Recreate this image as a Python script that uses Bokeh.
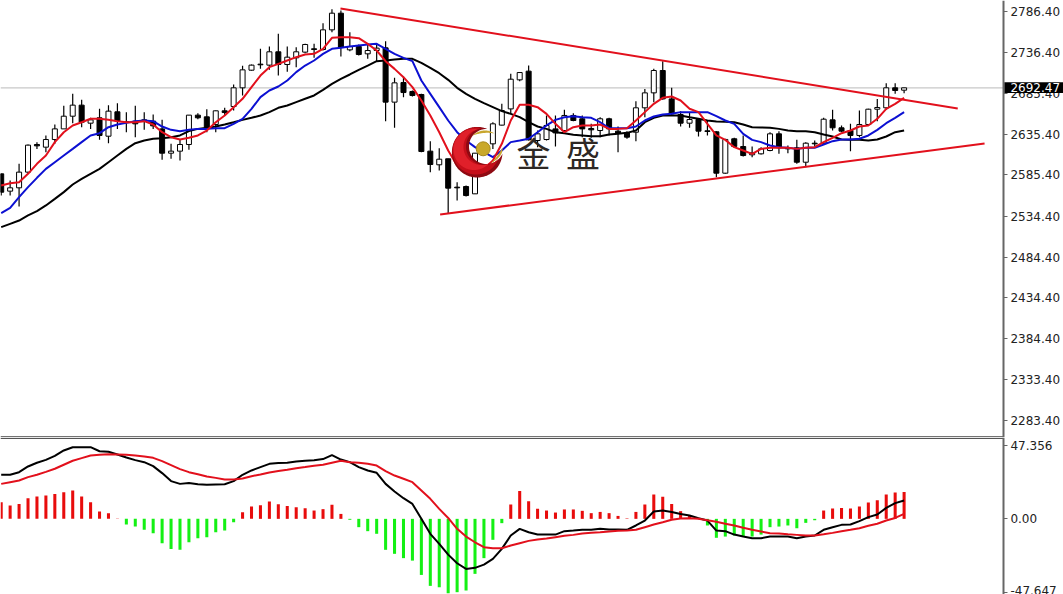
import numpy as np
from bokeh.plotting import figure
from bokeh.layouts import column
from bokeh.models import Range1d, FixedTicker, PrintfTickFormatter
from bokeh.core.properties import value
from bokeh.embed import file_html
from bokeh.resources import INLINE

high = [2586.7,2578.5,2599.0,2622.8,2625.6,2633.9,2647.4,2670.3,2685.1,2677.7,2655.6,2666.7,2671.2,2673.6,2662.6,2670.3,2662.6,2659.7,2653.1,2623.6,
        2628.5,2658.9,2661.3,2666.2,2664.6,2667.9,2696.6,2719.5,2721.2,2740.5,2743.3,2758.9,2743.3,2742.5,2746.6,2746.6,2772.0,2789.2,2787.6,2761.0,
        2745.8,2747.4,2746.6,2749.9,2704.8,2706.4,2689.2,2685.1,2626.9,2618.3,2605.2,2576.5,2572.4,2612.1,2625.6,2650.2,2672.8,2709.7,2711.3,2719.9,
        2640.0,2658.5,2658.5,2665.4,2661.3,2658.5,2648.2,2656.4,2655.6,2644.9,2639.2,2676.1,2691.2,2715.9,2725.3,2692.5,2663.8,2662.6,2654.3,2652.3,
        2639.2,2629.8,2631.0,2633.9,2620.3,2619.5,2637.9,2639.2,2621.6,2628.5,2625.6,2627.7,2655.6,2665.4,2646.2,2648.2,2664.6,2666.7,2678.9,2698.2,2698.2,2692.5]
low = [2560.0,2560.0,2546.5,2586.7,2617.4,2613.4,2623.6,2642.0,2649.0,2644.1,2642.0,2628.5,2624.4,2642.0,2637.9,2631.8,2640.8,2642.0,2603.9,2605.2,
       2603.1,2616.2,2653.9,2637.9,2637.9,2658.5,2664.6,2683.0,2713.4,2715.9,2714.6,2707.6,2712.2,2717.9,2735.1,2729.4,2738.4,2760.9,2731.0,2737.6,
       2732.3,2728.2,2724.9,2651.5,2643.3,2681.0,2681.8,2613.4,2588.8,2590.8,2537.5,2553.9,2558.8,2562.1,2609.2,2617.4,2646.2,2660.5,2700.7,2627.7,
       2619.5,2627.7,2620.3,2636.7,2651.5,2631.8,2631.0,2631.8,2633.9,2613.4,2629.8,2626.9,2656.4,2674.9,2677.7,2658.5,2644.9,2643.3,2632.6,2633.9,
       2582.6,2586.7,2618.7,2608.0,2607.2,2610.5,2614.6,2611.3,2612.1,2599.0,2594.9,2620.3,2622.8,2640.0,2637.9,2614.6,2631.8,2646.2,2651.5,2665.4,2685.1,2685.9]
open_ = [2586.7,2565.4,2569.5,2588.8,2622.8,2619.5,2628.9,2642.0,2657.6,2671.2,2649.0,2655.6,2633.0,2663.0,2650.7,2651.5,2653.1,2651.5,2642.0,2612.1,
         2614.6,2622.8,2658.9,2656.8,2647.4,2664.2,2669.5,2692.5,2714.2,2721.6,2720.4,2736.8,2721.2,2729.4,2736.4,2740.5,2739.6,2763.8,2784.3,2739.2,
         2743.3,2734.3,2738.4,2741.7,2674.9,2699.0,2688.0,2684.3,2614.6,2597.8,2605.2,2570.3,2571.1,2562.1,2611.3,2623.6,2646.6,2666.6,2702.3,2713.0,
         2627.7,2628.9,2642.0,2640.0,2658.5,2654.4,2642.5,2640.0,2654.4,2639.2,2637.1,2637.9,2667.9,2686.3,2713.8,2678.9,2659.7,2649.0,2653.5,2639.6,
         2638.4,2587.5,2629.8,2620.3,2610.1,2611.3,2615.4,2635.9,2618.7,2618.7,2601.0,2624.4,2624.4,2653.1,2643.3,2640.0,2633.9,2647.4,2666.2,2667.9,2692.5,2689.6]
close = [2564.1,2569.5,2588.8,2622.0,2621.1,2628.9,2642.0,2657.6,2671.2,2650.2,2653.1,2633.9,2663.8,2651.5,2649.8,2648.2,2652.3,2645.7,2612.1,2614.6,
         2622.8,2658.9,2655.6,2644.1,2664.2,2662.1,2692.5,2714.6,2720.4,2720.8,2736.8,2721.2,2730.2,2736.8,2745.8,2739.6,2763.8,2784.3,2742.5,2743.3,
         2733.5,2738.4,2741.3,2674.9,2698.6,2686.7,2683.1,2614.2,2598.2,2604.7,2569.1,2569.5,2560.0,2612.1,2621.6,2648.2,2664.6,2703.1,2711.3,2628.5,
         2635.9,2646.2,2637.1,2658.5,2652.3,2642.0,2640.8,2654.4,2642.0,2636.7,2631.8,2667.9,2686.3,2713.8,2678.9,2660.5,2649.0,2653.5,2639.2,2638.8,
         2587.5,2629.0,2620.3,2609.2,2612.5,2617.4,2635.9,2618.7,2617.4,2601.0,2624.4,2623.6,2653.9,2643.3,2639.2,2633.9,2647.4,2666.2,2668.3,2692.5,2689.2,2692.5]

ma_red = [2572.4,2575.2,2576.4,2586.7,2599.0,2609.2,2625.7,2637.9,2646.2,2650.2,2654.4,2654.4,2653.1,2651.5,2650.2,2650.2,2651.5,2647.4,2637.9,2631.8,
          2628.9,2631.0,2633.9,2640.0,2650.2,2658.5,2668.7,2679.0,2693.3,2707.6,2717.9,2722.0,2726.1,2730.2,2733.5,2734.3,2740.5,2754.0,2754.8,2754.8,
          2753.6,2746.6,2738.4,2725.3,2715.8,2705.6,2693.3,2676.9,2658.5,2637.9,2615.4,2596.9,2590.0,2588.8,2592.9,2603.1,2623.6,2652.3,2671.6,2671.6,
          2668.7,2660.5,2648.2,2637.9,2644.1,2646.2,2646.2,2647.4,2642.0,2642.0,2642.9,2652.3,2662.6,2672.8,2680.2,2681.8,2676.9,2666.7,2662.6,2648.2,
          2633.9,2628.5,2619.5,2615.4,2611.3,2617.4,2618.7,2618.7,2618.7,2617.4,2618.7,2619.5,2625.7,2631.0,2636.7,2640.0,2644.9,2646.2,2654.4,2666.7,2672.8,2680.2]
ma_blue = [2538.3,2544.9,2558.0,2570.3,2581.8,2592.8,2601.0,2609.2,2617.4,2625.7,2633.9,2636.7,2644.1,2647.4,2649.4,2651.5,2652.3,2651.5,2644.9,2640.8,
           2639.2,2640.8,2642.0,2642.0,2642.9,2642.9,2648.2,2654.4,2666.7,2681.0,2689.2,2694.1,2701.5,2711.8,2719.9,2726.1,2734.3,2740.5,2741.7,2743.3,
           2744.6,2745.8,2746.6,2740.5,2734.3,2729.4,2725.3,2701.5,2685.1,2668.7,2652.3,2637.9,2627.7,2619.5,2613.4,2607.2,2615.4,2625.7,2627.7,2629.8,
           2637.9,2646.2,2653.1,2656.4,2657.6,2656.4,2655.6,2650.2,2642.9,2642.9,2642.9,2644.9,2652.3,2657.2,2659.7,2660.5,2662.6,2662.6,2662.6,2662.6,
           2657.6,2652.3,2648.2,2635.9,2628.5,2625.7,2621.6,2619.5,2618.7,2617.4,2618.7,2618.7,2622.8,2626.9,2628.9,2628.9,2629.8,2633.9,2640.8,2649.0,2655.6,2662.6]
ma_black = [2521.1,2525.2,2529.3,2535.5,2540.8,2547.8,2555.9,2564.2,2573.6,2580.5,2586.7,2592.8,2601.0,2609.2,2617.4,2624.4,2627.7,2629.8,2630.6,2631.8,
            2633.9,2639.2,2642.0,2643.3,2644.9,2647.4,2650.2,2653.1,2655.6,2658.5,2662.6,2667.9,2670.8,2674.9,2679.0,2683.1,2690.0,2697.4,2703.6,2708.9,
            2714.6,2719.9,2725.3,2726.1,2727.3,2728.2,2728.2,2723.2,2717.1,2710.5,2702.3,2692.5,2685.1,2679.0,2673.6,2668.7,2663.8,2660.5,2656.4,2650.2,
            2644.9,2642.0,2637.9,2636.7,2634.7,2633.9,2633.0,2633.0,2635.1,2635.9,2637.1,2640.0,2650.2,2655.6,2658.5,2658.5,2658.5,2656.4,2654.4,2652.3,
            2651.1,2650.7,2650.2,2647.4,2644.1,2643.7,2643.3,2642.0,2640.0,2639.2,2639.2,2637.9,2635.1,2632.6,2628.9,2628.5,2628.5,2627.7,2628.9,2632.6,2637.9,2640.0]

hist = [10.8,8.7,9.7,13.4,14.5,15.2,16.2,17.3,18.4,14.5,10.8,4.8,3.7,0.3,-3.7,-5.0,-7.1,-9.3,-15.8,-19.5,
        -20.1,-15.2,-12.6,-11.9,-8.7,-7.6,-2.2,4.3,8.0,8.9,11.3,9.5,8.4,7.6,6.9,5.4,6.3,9.1,3.2,-0.6,
        -5.4,-8.0,-9.7,-20.1,-22.7,-25.5,-27.1,-36.4,-43.5,-44.4,-48.3,-47.6,-46.5,-35.7,-25.5,-13.6,-2.8,9.3,18.0,11.5,
        6.5,5.4,4.1,6.1,6.1,5.2,3.7,4.5,3.7,1.9,0.3,4.5,9.3,15.8,14.3,9.7,5.0,2.2,0.6,-4.3,
        -12.3,-11.5,-10.8,-11.5,-11.5,-10.2,-5.4,-5.0,-4.3,-6.1,-2.6,-0.9,5.4,6.7,7.1,6.7,8.0,10.6,12.1,15.8,17.1,17.5]
macd = [28.6,28.6,30.3,34.0,36.4,38.3,40.9,44.4,46.5,46.5,46.5,43.9,43.5,41.8,39.8,38.1,36.8,34.2,29.7,24.5,
        22.7,23.2,22.5,22.1,22.3,22.5,24.5,28.6,31.4,33.6,35.7,36.2,36.4,37.2,37.7,38.1,38.8,41.4,38.5,36.8,
        33.6,31.4,29.9,22.7,17.8,13.4,9.7,0.0,-9.7,-16.2,-23.2,-28.8,-32.5,-31.8,-29.7,-26.0,-19.5,-10.8,-6.5,-8.7,
        -10.2,-10.2,-10.2,-8.0,-7.6,-7.1,-7.1,-6.5,-6.9,-6.9,-7.1,-4.3,-1.1,4.8,5.4,4.5,3.2,2.2,0.4,-1.1,
        -7.6,-8.0,-10.2,-11.5,-12.6,-12.6,-11.5,-11.5,-11.5,-12.6,-11.5,-10.8,-7.1,-5.4,-3.9,-3.7,-1.5,1.1,2.8,7.1,10.2,11.9]
signal = [22.7,23.8,24.9,27.1,28.6,30.5,32.5,35.1,37.7,39.4,41.1,41.6,42.0,41.8,41.6,41.1,40.5,39.6,37.5,34.9,
          32.3,30.3,29.0,27.5,26.6,25.5,25.5,26.2,27.7,28.8,30.1,31.0,31.8,32.9,33.6,34.4,35.1,36.4,37.7,36.8,
          36.4,35.7,34.6,31.0,28.1,26.0,23.8,18.4,13.0,6.5,0.6,-6.5,-11.5,-15.2,-18.4,-19.1,-19.1,-17.3,-15.8,-14.3,
          -13.4,-12.8,-11.9,-11.0,-10.4,-9.5,-9.1,-8.7,-8.2,-7.8,-7.6,-7.1,-5.4,-3.7,-2.2,-0.6,0.2,0.4,0.0,-0.9,
          -1.9,-3.2,-4.3,-5.8,-7.1,-8.2,-9.3,-9.5,-10.0,-10.4,-10.8,-10.8,-10.0,-9.1,-8.0,-7.1,-6.1,-4.5,-3.2,-1.1,0.6,3.2]

trend_upper_x = [37.95, 107.0]
trend_upper_y = [2790.1, 2667.1]
trend_lower_x = [49.1, 110.0]
trend_lower_y = [2536.7, 2624.0]

price_ticks = [2786.4, 2736.4, 2685.4, 2635.4, 2585.4, 2534.4, 2484.4, 2434.4, 2384.4, 2333.4, 2283.4]
macd_ticks = [47.356, 0.0, -47.647]
macd_labels = ["47.356", "0.00", "-47.647"]
last_price = 2692.47
logo_words = ["金", "盛"]

RED = "#e2101c"
BLUE = "#0c10d2"
AXIS = "#666666"
LABEL = "#222222"
FONT = "DejaVu Sans"

x = np.arange(len(close))
o, c, h, l = map(np.array, (open_, close, high, low))
up = c >= o
AXIS_X = 112.11
x_range = Range1d(-0.078, 118.83)


def style_axis(ax):
    ax.fixed_location = AXIS_X
    ax.axis_line_color = AXIS
    ax.axis_line_width = 2
    ax.major_tick_line_color = AXIS
    ax.major_tick_out = 4
    ax.major_tick_in = 0
    ax.minor_tick_line_color = None
    ax.major_label_standoff = 3
    ax.major_label_text_font = FONT
    ax.major_label_text_font_size = "12px"
    ax.major_label_text_color = LABEL


p1 = figure(frame_width=1063, frame_height=437, x_range=x_range, y_range=Range1d(2262.4, 2799.9),
            output_backend="svg", toolbar_location=None, y_axis_location="right",
            min_border=0, outline_line_color=None)
p1.xaxis.visible = False
p1.grid.visible = False
style_axis(p1.yaxis[0])
p1.yaxis[0].ticker = FixedTicker(ticks=price_ticks)
p1.yaxis[0].formatter = PrintfTickFormatter(format="%.2f")
p1.line([-0.078, AXIS_X], [last_price, last_price], line_color="#c8c8c8", line_width=1.2)
p1.line([-0.078, AXIS_X], [2263.2, 2263.2], line_color="#444444", line_width=1.4)

p1.segment(x, h, x, l, line_color="black", line_width=1.2)
p1.vbar(x[up], 0.56, c[up], o[up], fill_color="white", line_color="black", line_width=1)
p1.vbar(x[~up], 0.56, o[~up], c[~up], fill_color="black", line_color="black", line_width=1)
p1.line(x, ma_black, line_color="black", line_width=2)
p1.line(x, ma_blue, line_color=BLUE, line_width=2)
p1.line(x, ma_red, line_color=RED, line_width=2)
p1.line(trend_upper_x, trend_upper_y, line_color=RED, line_width=2)
p1.line(trend_lower_x, trend_lower_y, line_color=RED, line_width=2)


# Watermark logo, laid out in screen pixels and mapped to the chart's data space
def dx(px):
    return (np.asarray(px, dtype=float) - 0.7) / 8.94


def dy(py):
    return 2799.9 - 1.23 * np.asarray(py, dtype=float)


def crescent(c0, r0, c1, r1):
    base = np.arctan2(c0[1] - c1[1], c0[0] - c1[0])
    t = base + np.linspace(-np.pi, np.pi, 240)
    ox, oy = c0[0] + r0 * np.cos(t), c0[1] + r0 * np.sin(t)
    keep = np.hypot(ox - c1[0], oy - c1[1]) > r1
    ix, iy = c1[0] + r1 * np.cos(t), c1[1] + r1 * np.sin(t)
    keep2 = np.hypot(ix - c0[0], iy - c0[1]) < r0
    return np.r_[ox[keep], ix[keep2][::-1]], np.r_[oy[keep], iy[keep2][::-1]]


def swoosh(a, b, c1, c2):
    t = np.linspace(0, 1, 30)[:, None]
    a, b, c1, c2 = map(np.array, (a, b, c1, c2))
    s1 = (1 - t) ** 2 * a + 2 * t * (1 - t) * c1 + t ** 2 * b
    s2 = (1 - t) ** 2 * b + 2 * t * (1 - t) * c2 + t ** 2 * a
    pts = np.vstack([s1, s2])
    return pts[:, 0], pts[:, 1]


for (c0, r0, c1, r1, col) in [((476.7, 151.7), 25.3, (486.0, 146.0), 17.5, "#8e0a12"),
                              ((475.5, 150.5), 23.5, (484.0, 146.0), 18.5, "#c40f1a"),
                              ((473.5, 149.0), 20.5, (481.0, 146.5), 18.0, "#e0202a")]:
    cx, cy = crescent(c0, r0, c1, r1)
    p1.patch(dx(cx), dy(cy), fill_color=col, line_color=None, level="overlay")
for a, b, c1, c2 in [((472, 135), (494, 133), (483, 126), (484, 131)),
                     ((490, 163), (502, 147), (503, 156), (498, 155))]:
    sx, sy = swoosh(a, b, c1, c2)
    p1.patch(dx(sx), dy(sy), fill_color="#c8a62e", line_color=None, level="overlay")
p1.scatter(dx([482.7]), dy([148.3]), size=14, marker="circle", fill_color="#c9a82a", line_color="#a88a1e",
           level="overlay")
p1.text(dx([533.0, 582.5]), dy([151.5, 151.5]), text=logo_words, text_font=value("Noto Sans CJK SC"),
        text_font_size="34px", text_color="#2e2824", text_align="center", text_baseline="middle", level="overlay")

# Last-price tag, drawn over the axis labels
p1.quad(left=dx([1004.0]), right=dx([1063.0]), top=dy([81.7]), bottom=dy([92.4]), fill_color="black",
        line_color=None, level="overlay")
p1.text(dx([1010.0]), [last_price], text=[f"{last_price:.2f}"], text_color="white", text_font=value(FONT),
        text_font_size="12px", text_baseline="middle", level="overlay")

p2 = figure(frame_width=1063, frame_height=157, x_range=x_range, y_range=Range1d(-49.1, 52.8),
            output_backend="svg", toolbar_location=None, y_axis_location="right",
            min_border=0, outline_line_color=None)
p2.xaxis.visible = False
p2.grid.visible = False
style_axis(p2.yaxis[0])
p2.yaxis[0].ticker = FixedTicker(ticks=macd_ticks)
p2.yaxis[0].major_label_overrides = dict(zip(macd_ticks, macd_labels))
p2.line([-0.078, AXIS_X], [52.2, 52.2], line_color="#555555", line_width=1.4)

hv = np.array(hist)
pos = hv >= 0
p2.vbar(x[pos], 0.34, hv[pos], 0, fill_color="#e80c0c", line_color=None)
p2.vbar(x[~pos], 0.34, 0, hv[~pos], fill_color="#14f014", line_color=None)
p2.line(x, macd, line_color="black", line_width=2)
p2.line(x, signal, line_color=RED, line_width=2)

layout = column(p1, p2, spacing=0)
open("out.html", "w").write(file_html(layout, INLINE))
